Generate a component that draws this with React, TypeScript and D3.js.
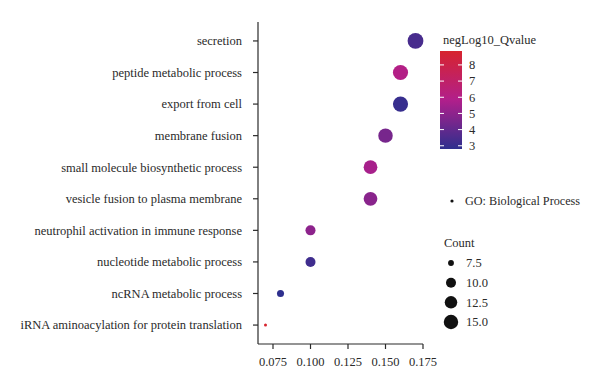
import React from 'react';
import * as d3 from 'd3';

// GO terms, top to bottom
const terms = [
  'secretion',
  'peptide metabolic process',
  'export from cell',
  'membrane fusion',
  'small molecule biosynthetic process',
  'vesicle fusion to plasma membrane',
  'neutrophil activation in immune response',
  'nucleotide metabolic process',
  'ncRNA metabolic process',
  'iRNA aminoacylation for protein translation'
];
const geneRatio = [0.17, 0.16, 0.16, 0.15, 0.14, 0.14, 0.1, 0.1, 0.08, 0.07];
const counts = [17, 16, 16, 15, 14, 14, 10, 10, 8, 7];
const negLog10Q = [3.4, 6.0, 3.0, 4.5, 5.6, 4.9, 5.0, 3.2, 2.8, 8.86];

const xTicks = [0.075, 0.1, 0.125, 0.15, 0.175];
const colorTicks = [3, 4, 5, 6, 7, 8];
const sizeBreaks = [7.5, 10, 12.5, 15];

const W = 600;
const H = 388;
const FONT = '"Liberation Serif", "DejaVu Serif", serif';
const INK = '#2a2a2a';
const FS = 12.5;

export default function App() {
  const x = d3.scaleLinear().domain([0.065, 0.175]).range([258, 423]);
  const y = d3.scalePoint<string>().domain(terms).range([22, 344]).padding(0.6);

  const qExtent = d3.extent(negLog10Q) as [number, number];
  const qMid = (qExtent[0] + qExtent[1]) / 2;
  const color = d3.scaleLinear<string>()
    .domain([qExtent[0], qMid, qExtent[1]])
    .range(['#2e2f8e', '#b11f8b', '#d7242e'])
    .interpolate(d3.interpolateRgb);

  const cExtent = d3.extent(counts) as [number, number];
  const t = d3.scaleLinear().domain(cExtent).range([0, 1]).clamp(true);
  const radius = (c: number) => 1.5 + Math.sqrt(t(c)) * 6.4;

  // colour bar
  const barTop = 51;
  const barBottom = 149;
  const barY = d3.scaleLinear().domain(qExtent).range([barBottom, barTop]);
  const stops = d3.range(0, 1.0001, 0.1).map((p) => ({
    off: p,
    col: color(qExtent[0] + p * (qExtent[1] - qExtent[0]))
  }));

  const sizeLegendY = d3.scaleLinear().domain([0, 3]).range([263, 322]);

  const data = terms.map((term, i) => ({
    term,
    ratio: geneRatio[i],
    count: counts[i],
    q: negLog10Q[i]
  }));

  return (
    <svg width={W} height={H} style={{ position: 'absolute', left: 0, top: 0, fontFamily: FONT }}>
      <defs>
        <linearGradient id="qbar" x1="0" y1="1" x2="0" y2="0">
          {stops.map((s, i) => (
            <stop key={i} offset={s.off} stopColor={s.col} />
          ))}
        </linearGradient>
      </defs>
      <rect width={W} height={H} fill="#fff" />

      {/* y axis */}
      <line x1={258} x2={258} y1={22} y2={344} stroke={INK} strokeWidth={1.2} />
      {terms.map((term) => (
        <g key={term} transform={`translate(0,${y(term)})`}>
          <line x1={253} x2={258} stroke={INK} strokeWidth={1.2} />
          <text x={242} dy="0.35em" textAnchor="end" fontSize={FS} fill={INK}>
            {term}
          </text>
        </g>
      ))}

      {/* x axis */}
      <line x1={258} x2={423} y1={344} y2={344} stroke={INK} strokeWidth={1.2} />
      {xTicks.map((v) => (
        <g key={v} transform={`translate(${x(v)},344)`}>
          <line y1={0} y2={5} stroke={INK} strokeWidth={1.2} />
          <text y={22} textAnchor="middle" fontSize={FS} fill={INK}>
            {d3.format('.3f')(v)}
          </text>
        </g>
      ))}

      {/* points */}
      {data.map((d) => (
        <circle
          key={d.term}
          cx={x(d.ratio)}
          cy={y(d.term)}
          r={radius(d.count)}
          fill={color(d.q)}
        />
      ))}

      {/* colour legend */}
      <text x={443} y={44} fontSize={FS} fill={INK}>negLog10_Qvalue</text>
      <rect x={440} y={barTop} width={22} height={barBottom - barTop} fill="url(#qbar)" />
      {colorTicks.map((v) => (
        <g key={v} transform={`translate(0,${barY(v)})`}>
          <line x1={440} x2={444} stroke="#fff" strokeWidth={1} />
          <line x1={458} x2={462} stroke="#fff" strokeWidth={1} />
          <text x={469} dy="0.35em" fontSize={FS} fill={INK}>{v}</text>
        </g>
      ))}

      {/* shape legend */}
      <circle cx={452} cy={201} r={1.6} fill="#111" />
      <text x={465} y={201} dy="0.35em" fontSize={12.2} fill={INK}>GO: Biological Process</text>

      {/* size legend */}
      <text x={444} y={243} dy="0.35em" fontSize={FS} fill={INK}>Count</text>
      {sizeBreaks.map((b, i) => (
        <g key={b} transform={`translate(0,${sizeLegendY(i)})`}>
          <circle cx={451} r={radius(b)} fill="#111" />
          <text x={466} dy="0.35em" fontSize={FS} fill={INK}>{d3.format('.1f')(b)}</text>
        </g>
      ))}
    </svg>
  );
}
